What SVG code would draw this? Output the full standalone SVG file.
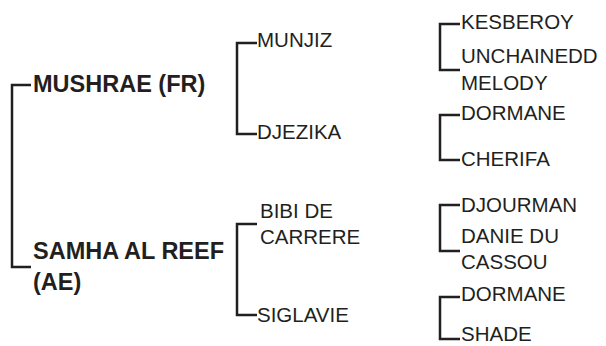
<svg xmlns="http://www.w3.org/2000/svg" width="606" height="346" viewBox="0 0 606 346">
<style>
.c{fill:none;stroke:#231f20;stroke-width:2.5;stroke-linejoin:miter}
text{font-family:"Liberation Sans",Arial,sans-serif;fill:#231f20}
.b{font-weight:bold;font-size:23.5px}
.r{font-size:20.5px}
</style>
<rect width="606" height="346" fill="#fff"/>
<g id="connectors">
<polyline class="c" points="31,85 12,85 12,267 31,267"/>
<polyline class="c" points="257,43 237,43 237,134 257,134"/>
<polyline class="c" points="257,224 237,224 237,315 257,315"/>
<polyline class="c" points="460,24 440,24 440,70 460,70"/>
<polyline class="c" points="460,115 440,115 440,160 460,160"/>
<polyline class="c" points="460,205 440,205 440,251 460,251"/>
<polyline class="c" points="460,297 440,297 440,339 460,339"/>
</g>
<g id="n-mushrae"><text class="b" x="33" y="92">MUSHRAE (FR)</text></g>
<g id="n-samha"><text class="b" x="33" y="259">SAMHA AL REEF</text><text class="b" x="33" y="290">(AE)</text></g>
<g id="n-munjiz"><text class="r" x="257" y="47">MUNJIZ</text></g>
<g id="n-djezika"><text class="r" x="257" y="139">DJEZIKA</text></g>
<g id="n-bibi"><text class="r" x="260" y="218">BIBI DE</text><text class="r" x="260" y="244">CARRERE</text></g>
<g id="n-siglavie"><text class="r" x="257" y="322">SIGLAVIE</text></g>
<g id="n-kesberoy"><text class="r" x="461" y="29">KESBEROY</text></g>
<g id="n-unchained"><text class="r" x="461" y="63">UNCHAINEDD</text><text class="r" x="461" y="90">MELODY</text></g>
<g id="n-dormane1"><text class="r" x="461" y="120">DORMANE</text></g>
<g id="n-cherifa"><text class="r" x="461" y="166">CHERIFA</text></g>
<g id="n-djourman"><text class="r" x="461" y="212">DJOURMAN</text></g>
<g id="n-danie"><text class="r" x="461" y="243">DANIE DU</text><text class="r" x="461" y="269">CASSOU</text></g>
<g id="n-dormane2"><text class="r" x="461" y="301">DORMANE</text></g>
<g id="n-shade"><text class="r" x="461" y="341">SHADE</text></g>
</svg>
